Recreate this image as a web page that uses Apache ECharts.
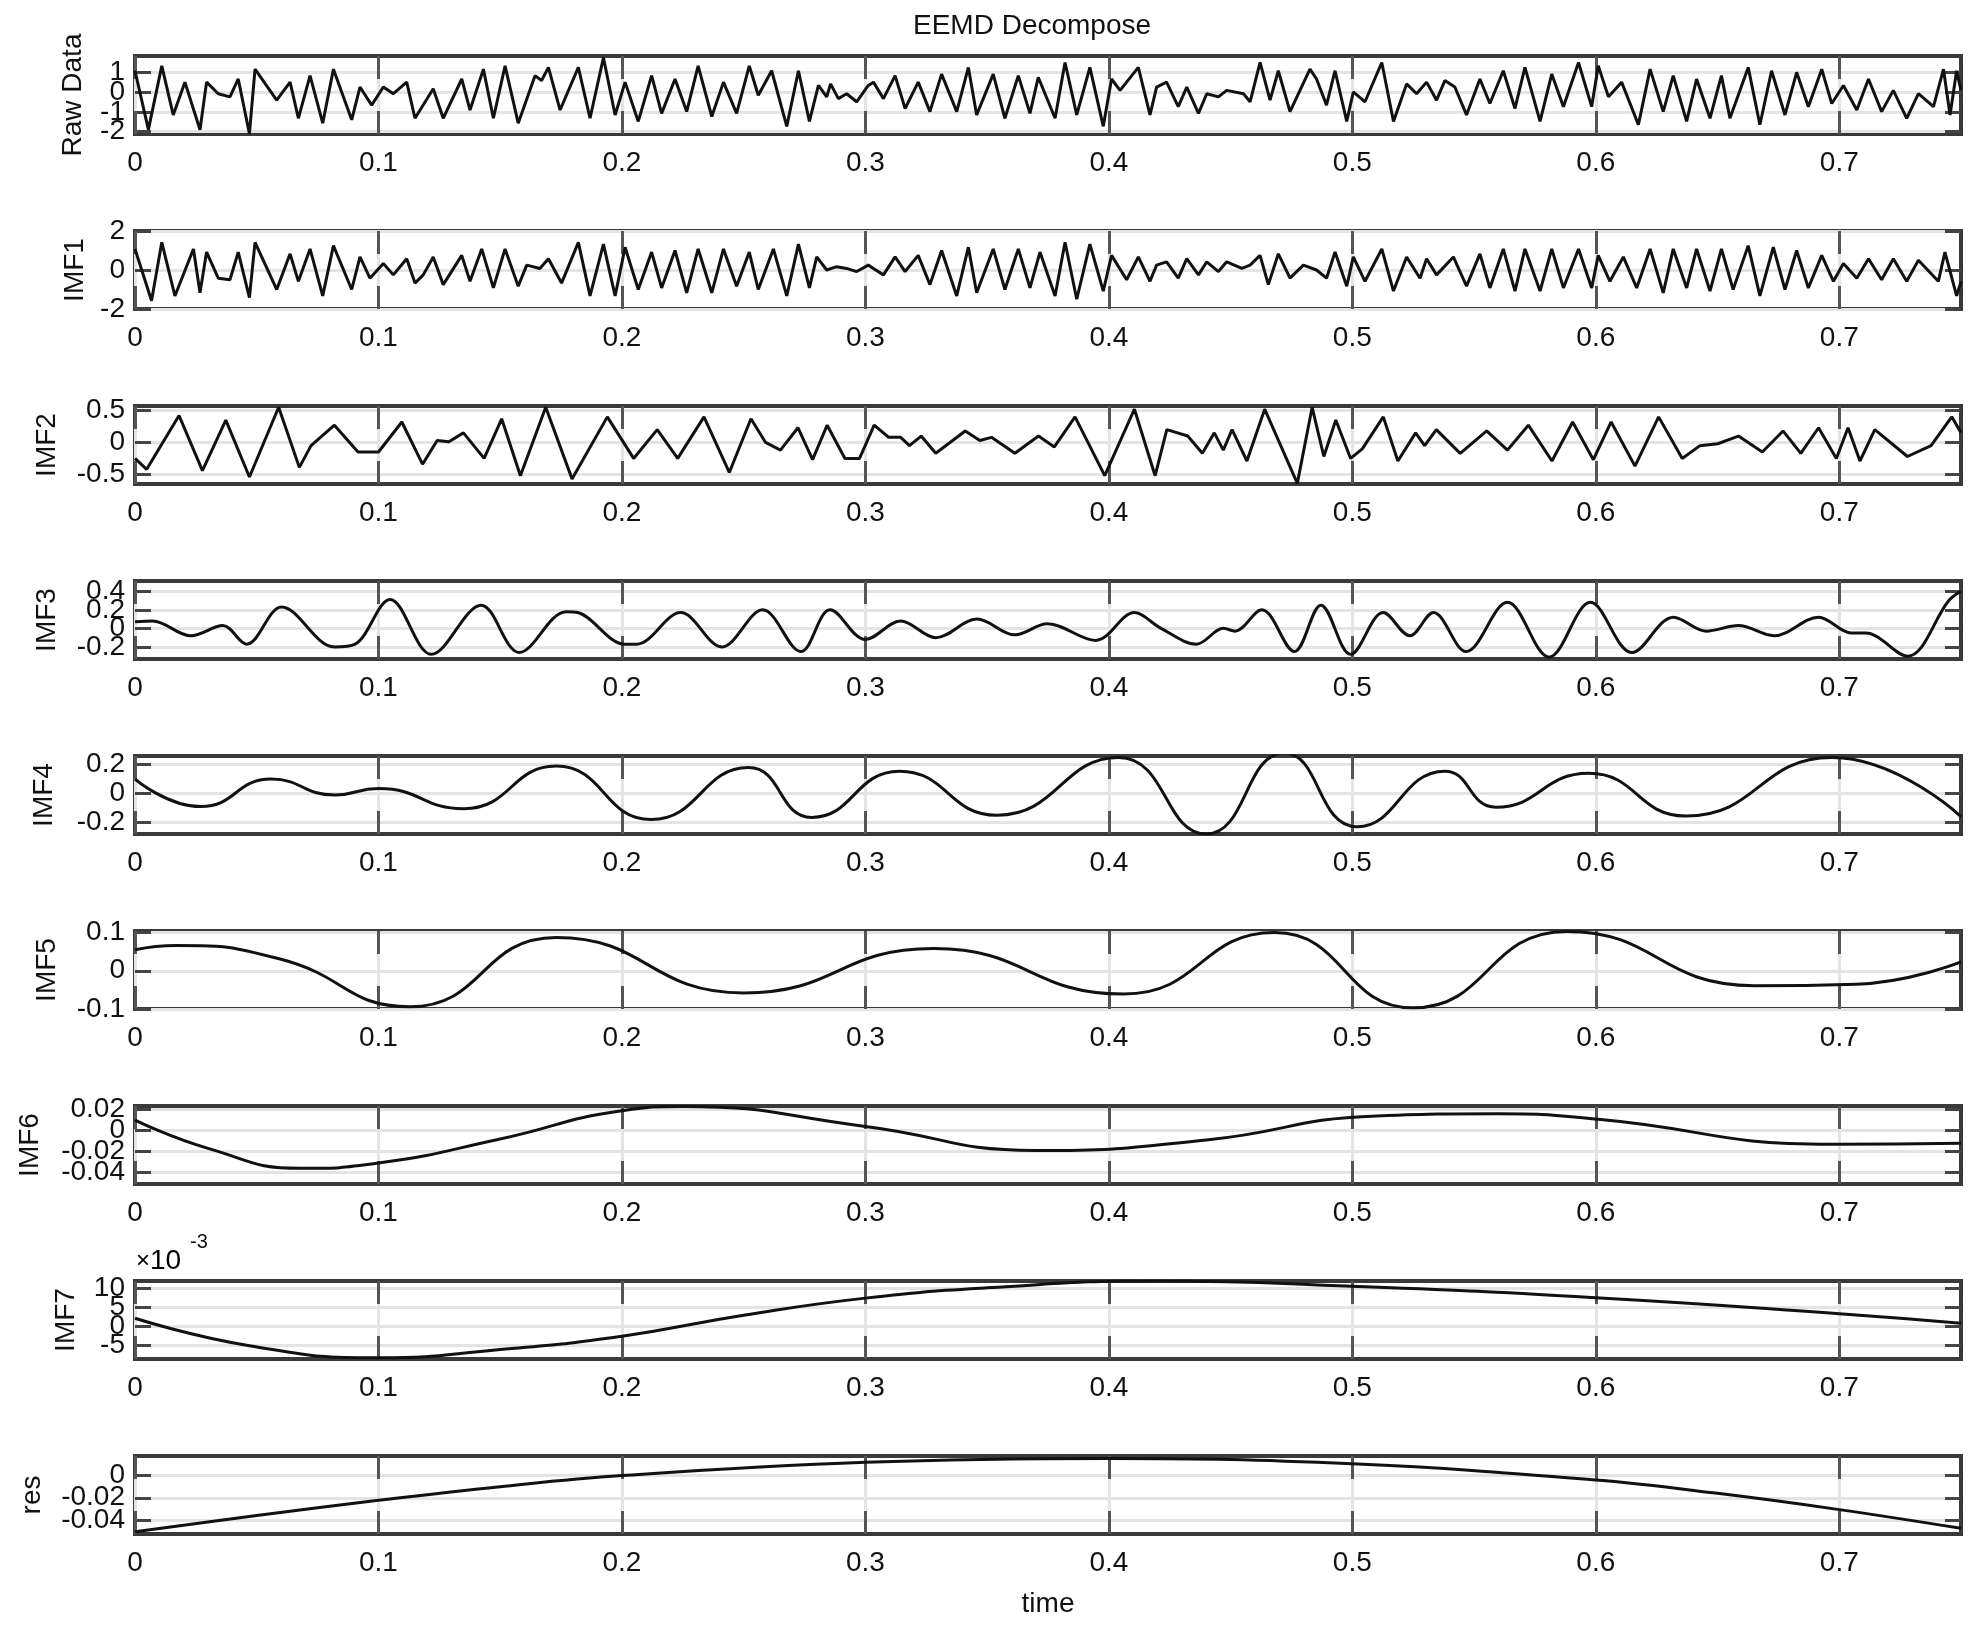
<!DOCTYPE html>
<html><head><meta charset="utf-8">
<script src="https://cdn.jsdelivr.net/npm/echarts@6/dist/echarts.min.js"></script>
<style>html,body{margin:0;padding:0;background:#fff}#c{width:1980px;height:1637px}</style>
</head><body><div id="c"></div>
<script>
// ---------------- data ----------------
const timeTicks = [0, 0.1, 0.2, 0.3, 0.4, 0.5, 0.6, 0.7];
const timeRange = [0, 0.75];

const rawData = [[0,1.1],[0.0055,-1.9],[0.011,1.35],[0.0157,-1.15],[0.0205,0.52],[0.0267,-1.9],[0.0294,0.52],[0.0342,-0.07],[0.039,-0.23],[0.0424,0.68],[0.047,-2.1],[0.0493,1.18],[0.0582,-0.4],[0.0637,0.52],[0.0671,-1.32],[0.0719,0.85],[0.0771,-1.57],[0.0815,1.18],[0.089,-1.4],[0.0924,0.27],[0.0972,-0.65],[0.102,0.27],[0.1061,-0.07],[0.1116,0.52],[0.115,-1.32],[0.1225,0.18],[0.1266,-1.32],[0.1342,0.68],[0.1376,-0.9],[0.1431,1.18],[0.1472,-1.32],[0.152,1.35],[0.1574,-1.57],[0.1643,0.85],[0.167,0.6],[0.1698,1.27],[0.1746,-0.9],[0.1821,1.27],[0.1869,-1.32],
[0.1924,1.77],[0.1972,-1.15],[0.2013,0.52],[0.2067,-1.48],[0.2122,0.85],[0.2163,-1.07],[0.2218,0.68],[0.2266,-0.98],[0.2313,1.35],[0.2369,-1.23],[0.2417,0.52],[0.2471,-1.07],[0.2523,1.35],[0.256,-0.15],[0.2615,1.1],[0.2677,-1.73],[0.2725,1.1],[0.277,-1.48],[0.2807,0.35],[0.2841,-0.23],[0.2857,0.43],[0.2889,-0.32],[0.2923,-0.07],[0.2964,-0.48],[0.3012,0.35],[0.3033,0.52],[0.3074,-0.32],[0.3122,0.85],[0.3163,-0.82],[0.3217,0.52],[0.3265,-0.98],[0.3313,0.93],[0.3375,-0.98],[0.3423,1.27],[0.3457,-1.15],[0.3525,0.93],[0.3573,-1.32],[0.3628,0.85],[0.3676,-1.07],[0.371,0.77],[0.3779,-1.32],
[0.382,1.52],[0.3868,-1.15],[0.3922,1.27],[0.3977,-1.73],[0.4011,0.68],[0.4046,0.1],[0.4121,1.27],[0.4169,-1.15],[0.4196,0.27],[0.4237,0.52],[0.4285,-0.73],[0.432,0.27],[0.4368,-1.07],[0.4402,-0.07],[0.445,-0.23],[0.4484,0.1],[0.4553,-0.07],[0.458,-0.48],[0.4621,1.52],[0.4662,-0.4],[0.4696,1.1],[0.4744,-0.98],[0.4826,1.18],[0.4853,0.68],[0.4894,-0.65],[0.4929,1.1],[0.4977,-1.48],[0.5004,0.02],[0.5052,-0.48],[0.5121,1.52],[0.5169,-1.48],[0.5223,0.43],[0.5264,-0.07],[0.5305,0.52],[0.5346,-0.4],[0.538,0.6],[0.5421,0.27],[0.5469,-1.15],[0.5524,0.68],[0.5565,-0.57],[0.562,1.1],[0.5668,-0.82],
[0.5709,1.27],[0.5771,-1.48],[0.5819,0.93],[0.5867,-0.73],[0.5929,1.52],[0.5983,-0.73],[0.601,1.35],[0.6052,-0.23],[0.6106,0.52],[0.6175,-1.65],[0.6223,1.18],[0.6277,-0.98],[0.6318,0.85],[0.6373,-1.48],[0.6414,0.68],[0.6469,-1.32],[0.6516,0.85],[0.6551,-1.32],[0.6626,1.27],[0.6674,-1.65],[0.6722,1.1],[0.6777,-1.15],[0.6825,1.02],[0.6873,-0.73],[0.6928,1.18],[0.6969,-0.57],[0.7017,0.35],[0.7072,-0.9],[0.712,0.68],[0.7174,-0.98],[0.7222,0.1],[0.7277,-1.32],[0.7325,-0.07],[0.7387,-0.73],[0.7428,1.18],[0.7455,-1.15],[0.7482,1.1],[0.75,0.1]];

const imf1Data = [[0,1.08],[0.0068,-1.58],[0.011,1.42],[0.0164,-1.33],[0.024,1.08],[0.0267,-1.17],[0.0294,0.92],[0.0342,-0.42],[0.039,-0.5],[0.0424,0.92],[0.047,-1.42],[0.0493,1.42],[0.0582,-1.0],[0.0637,0.83],[0.0671,-0.58],[0.0719,1.08],[0.0771,-1.33],[0.0815,1.25],[0.089,-1.0],[0.0924,0.67],[0.0965,-0.42],[0.102,0.33],[0.1061,-0.25],[0.1116,0.58],[0.115,-0.67],[0.1184,-0.25],[0.1225,0.67],[0.1266,-0.75],[0.1342,0.75],[0.1376,-0.58],[0.1424,1.08],[0.1472,-0.92],[0.152,1.08],[0.1574,-0.83],[0.1609,0.25],[0.1663,0.08],[0.1698,0.58],[0.1752,-0.67],[0.1821,1.42],[0.1869,-1.33],
[0.1924,1.33],[0.1972,-1.33],[0.2013,1.17],[0.2067,-1.0],[0.2122,0.92],[0.2163,-0.92],[0.2218,1.0],[0.2266,-1.17],[0.2313,1.08],[0.2369,-1.17],[0.2417,1.08],[0.2471,-0.83],[0.2523,0.92],[0.256,-1.0],[0.2622,1.08],[0.2677,-1.33],[0.2725,1.33],[0.277,-0.92],[0.28,0.67],[0.2841,0.0],[0.2882,0.17],[0.2923,0.08],[0.2964,-0.08],[0.3012,0.25],[0.3033,0.08],[0.3074,-0.25],[0.3122,0.67],[0.3163,-0.08],[0.3217,0.75],[0.3265,-0.75],[0.3313,1.0],[0.3375,-1.33],[0.3423,1.17],[0.3457,-1.17],[0.3525,1.08],[0.3573,-1.0],[0.3628,1.08],[0.3676,-0.92],[0.3717,0.92],[0.3779,-1.33],
[0.382,1.42],[0.3868,-1.5],[0.3922,1.33],[0.3977,-1.08],[0.4011,0.75],[0.4073,-0.5],[0.4121,0.67],[0.4169,-0.58],[0.4196,0.25],[0.4237,0.42],[0.4285,-0.42],[0.432,0.58],[0.4368,-0.25],[0.4402,0.42],[0.445,-0.08],[0.4484,0.42],[0.4546,0.08],[0.458,0.25],[0.4621,0.75],[0.4655,-0.75],[0.4696,0.83],[0.4744,-0.42],[0.4799,0.25],[0.4853,0.0],[0.4894,-0.42],[0.4929,0.92],[0.4977,-0.83],[0.5004,0.67],[0.5052,-0.58],[0.5121,1.08],[0.5169,-1.08],[0.5223,0.67],[0.5278,-0.42],[0.5305,0.58],[0.5346,-0.25],[0.5415,0.67],[0.5469,-0.83],[0.5524,0.83],[0.5565,-0.92],[0.562,1.08],[0.5668,-1.08],
[0.5709,1.08],[0.5771,-1.08],[0.5819,1.08],[0.5867,-0.92],[0.5929,1.08],[0.5983,-0.92],[0.601,0.75],[0.6058,-0.58],[0.6113,0.67],[0.6168,-0.92],[0.6223,1.08],[0.6277,-1.17],[0.6318,1.08],[0.6373,-0.92],[0.6414,1.08],[0.6469,-1.08],[0.6516,1.08],[0.6564,-1.0],[0.6626,1.25],[0.6674,-1.33],[0.6729,1.17],[0.6777,-1.0],[0.6825,1.0],[0.6873,-0.92],[0.6928,0.75],[0.6976,-0.58],[0.7017,0.33],[0.7072,-0.42],[0.712,0.58],[0.7174,-0.5],[0.7222,0.58],[0.7277,-0.58],[0.7325,0.5],[0.7407,-0.58],[0.7434,0.92],[0.7482,-1.33],[0.75,-0.58]];

const imf2Data = [[0,-0.25],[0.0048,-0.42],[0.0181,0.42],[0.0277,-0.44],[0.0373,0.35],[0.047,-0.54],[0.059,0.55],[0.0675,-0.39],[0.0723,-0.05],[0.0819,0.27],[0.0916,-0.15],[0.1,-0.15],[0.1096,0.32],[0.1181,-0.34],[0.1241,0.03],[0.1289,0.01],[0.1349,0.15],[0.1434,-0.25],[0.1506,0.37],[0.1583,-0.52],[0.1687,0.55],[0.1795,-0.57],[0.194,0.4],[0.2048,-0.25],[0.2145,0.2],[0.2229,-0.25],[0.2337,0.4],[0.2441,-0.47],[0.253,0.37],[0.259,0.0],[0.2651,-0.12],[0.2723,0.23],[0.2783,-0.27],[0.2843,0.27],[0.2916,-0.25],[0.2976,-0.25],[0.3036,0.27],[0.3096,0.08],[0.3145,0.08],[0.3181,-0.05],[0.3229,0.1],[0.3289,-0.17],[0.341,0.18],[0.347,0.03],[0.3518,0.08],[0.3614,-0.17],[0.3711,0.1],
[0.3776,-0.07],[0.3861,0.4],[0.3983,-0.52],[0.4105,0.52],[0.419,-0.52],[0.4238,0.2],[0.4324,0.1],[0.4384,-0.17],[0.4433,0.15],[0.447,-0.12],[0.4506,0.2],[0.4567,-0.29],[0.464,0.52],[0.4774,-0.64],[0.4835,0.55],[0.4883,-0.22],[0.4932,0.35],[0.4993,-0.25],[0.5041,-0.1],[0.5127,0.4],[0.5187,-0.29],[0.526,0.15],[0.5297,-0.05],[0.5345,0.2],[0.5443,-0.17],[0.5552,0.18],[0.5637,-0.12],[0.5723,0.27],[0.582,-0.29],[0.5905,0.32],[0.599,-0.27],[0.6063,0.32],[0.6161,-0.37],[0.6258,0.4],[0.6355,-0.25],[0.6428,-0.05],[0.6501,-0.02],[0.6586,0.1],[0.6684,-0.15],[0.6769,0.18],[0.6842,-0.17],[0.6915,0.23],[0.6988,-0.25],[0.7036,0.23],[0.7085,-0.29],[0.7146,0.2],[0.728,-0.22],[0.7377,-0.05],[0.7462,0.4],[0.75,0.15]];

const imf3Data = [[0,0.07],[0.0072,0.08],[0.0229,-0.08],[0.0361,0.03],[0.0458,-0.17],[0.0602,0.23],[0.0819,-0.2],[0.0904,-0.17],[0.1048,0.31],[0.1217,-0.28],[0.1422,0.25],[0.1578,-0.26],[0.1771,0.18],[0.1819,0.17],[0.2012,-0.17],[0.206,-0.17],[0.2241,0.17],[0.241,-0.2],[0.2578,0.2],[0.2735,-0.25],[0.2855,0.2],[0.3,-0.12],[0.3145,0.08],[0.3289,-0.1],[0.3458,0.1],[0.3614,-0.07],[0.3747,0.05],[0.3946,-0.13],[0.4105,0.17],[0.4214,0.0],[0.436,-0.17],[0.447,0.0],[0.4518,-0.03],[0.4628,0.2],[0.4762,-0.25],[0.4871,0.25],[0.4993,-0.28],[0.5127,0.17],[0.5236,-0.08],[0.5333,0.17],[0.5467,-0.25],[0.5637,0.28],[0.5808,-0.31],[0.5978,0.28],[0.6148,-0.26],[0.6319,0.12],[0.6453,-0.03],[0.6586,0.03],[0.6732,-0.08],[0.6915,0.12],[0.7049,-0.05],[0.7109,-0.05],[0.728,-0.3],[0.745,0.3],[0.75,0.4]];

const imf4Data = [[0,0.1],[0.027,-0.09],[0.056,0.1],[0.082,-0.01],[0.1,0.035],[0.135,-0.105],[0.173,0.19],[0.212,-0.18],[0.252,0.18],[0.278,-0.165],[0.314,0.155],[0.354,-0.15],[0.404,0.25],[0.44,-0.28],[0.472,0.28],[0.502,-0.23],[0.538,0.155],[0.559,-0.095],[0.597,0.14],[0.637,-0.155],[0.697,0.25],[0.75,-0.16]];

const imf5Data = [[0,0.055],[0.017,0.066],[0.06,0.03],[0.113,-0.094],[0.173,0.087],[0.25,-0.058],[0.328,0.058],[0.406,-0.061],[0.468,0.1],[0.525,-0.097],[0.588,0.103],[0.665,-0.039],[0.707,-0.035],[0.75,0.023]];

const imf6Data = [[0,0.01],[0.03,-0.017],[0.068,-0.036],[0.1,-0.031],[0.15,-0.008],[0.2,0.019],[0.225,0.023],[0.3,0.004],[0.37,-0.019],[0.44,-0.009],[0.51,0.014],[0.56,0.016],[0.6,0.011],[0.697,-0.013],[0.75,-0.012]];

const imf7Data = [[0,0.0022],[0.047,-0.005],[0.1,-0.0082],[0.15,-0.006],[0.2,-0.0025],[0.25,0.003],[0.3,0.0075],[0.35,0.0102],[0.42,0.012],[0.5,0.0106],[0.6,0.0076],[0.7,0.0034],[0.75,0.0009]];

const resData = [[0,-0.0506],[0.05,-0.036],[0.1,-0.0223],[0.15,-0.01],[0.2,0.0],[0.3,0.012],[0.4,0.0155],[0.5,0.0106],[0.6,-0.004],[0.65,-0.016],[0.7,-0.0307],[0.75,-0.0476]];

const panelNames = ['Raw Data','IMF1','IMF2','IMF3','IMF4','IMF5','IMF6','IMF7','res'];
const panelSeries = [rawData, imf1Data, imf2Data, imf3Data, imf4Data, imf5Data, imf6Data, imf7Data, resData];
const yRanges = [[-2.12,1.85],[-2,2],[-0.65,0.57],[-0.33,0.51],[-0.28,0.26],[-0.1,0.104],[-0.051,0.0235],[-0.0085,0.012],[-0.0527,0.0177]];
const yTicks = [[-2,-1,0,1],[-2,0,2],[-0.5,0,0.5],[-0.2,0,0.2,0.4],[-0.2,0,0.2],[-0.1,0,0.1],[-0.04,-0.02,0,0.02],[-0.005,0,0.005,0.01],[-0.04,-0.02,0]];
const yLabelScale = [1,1,1,1,1,1,1,1000,1];
const chartTitle = 'EEMD Decompose';
const xName = 'time';
const imf7Exponent = '-3';

// ---------------- layout / style ----------------
const FONT = '"Liberation Sans", Arial, sans-serif';
const FS = 28;
const LEFT = 135, RIGHT = 19, TOP0 = 56, STEP = 175, H = 78;
const nameGaps = [48, 46, 74, 74, 77, 74, 91, 55, 89];
const smoothness = [false, false, false, 0.35, 0.5, 0.5, 0.5, 0.5, 0.4];

const chart = echarts.init(document.getElementById('c'), null, {renderer: 'canvas'});
const grid = [], xAxis = [], yAxis = [], series = [];
const fmtNum = v => String(+(+v).toFixed(4));
const tickStyle = {color: '#444', width: 3};
const hidden = {show: false};

panelSeries.forEach((data, i) => {
  grid.push({left: LEFT, right: RIGHT, top: TOP0 + i * STEP, height: H, show: true,
    borderColor: '#3a3a3a', borderWidth: 4, backgroundColor: 'rgba(0,0,0,0)'});
  const scale = yLabelScale[i];
  const [ymin, ymax] = yRanges[i];
  const xIdx = xAxis.length;
  xAxis.push({type: 'value', gridIndex: i, min: timeRange[0], max: timeRange[1], position: 'bottom',
    name: i === panelSeries.length - 1 ? xName : '', nameLocation: 'middle', nameGap: 56,
    nameTextStyle: {fontSize: FS, fontFamily: FONT, color: '#111'},
    axisLine: {show: false, onZero: false},
    axisTick: {show: true, inside: true, length: 23, customValues: timeTicks, lineStyle: {color: '#555', width: 3}},
    axisLabel: {show: true, customValues: timeTicks, margin: 15, fontSize: FS, fontFamily: FONT, color: '#111',
      showMinLabel: true, showMaxLabel: true, formatter: v => fmtNum(v)},
    splitLine: {show: true, lineStyle: {color: '#e4e4e4', width: 3}}
  });
  xAxis.push({type: 'value', gridIndex: i, min: timeRange[0], max: timeRange[1], position: 'top',
    axisLine: {show: false, onZero: false},
    axisTick: {show: true, inside: true, length: 23, customValues: timeTicks, lineStyle: {color: '#555', width: 3}},
    axisLabel: hidden, splitLine: hidden
  });
  const yIdx = yAxis.length;
  yAxis.push({type: 'value', gridIndex: i, min: ymin, max: ymax, position: 'left',
    name: panelNames[i], nameLocation: 'middle', nameGap: nameGaps[i], nameRotate: 90,
    nameTextStyle: {fontSize: FS, fontFamily: FONT, color: '#111'},
    axisLine: {show: false, onZero: false},
    axisTick: {show: true, inside: true, length: 16, customValues: yTicks[i], lineStyle: tickStyle},
    axisLabel: hidden,
    splitLine: {show: true, lineStyle: {color: '#e4e4e4', width: 3}}
  });
  yAxis.push({type: 'value', gridIndex: i, min: ymin, max: ymax, position: 'right',
    axisLine: {show: false, onZero: false},
    axisTick: {show: true, inside: true, length: 16, customValues: yTicks[i], lineStyle: tickStyle},
    axisLabel: hidden, splitLine: hidden
  });
  // one label axis per tick value, so the crowded labels overlap like the original
  yTicks[i].forEach(tv => {
    yAxis.push({type: 'value', gridIndex: i, min: ymin, max: ymax, position: 'left',
      axisLine: {show: false, onZero: false}, axisTick: hidden, splitLine: hidden,
      axisLabel: {show: true, customValues: [tv], margin: 10, fontSize: FS, fontFamily: FONT, color: '#111',
        showMinLabel: true, showMaxLabel: true, formatter: v => fmtNum(v * scale)}
    });
  });
  series.push({type: 'line', xAxisIndex: xIdx, yAxisIndex: yIdx, data: data,
    showSymbol: false, symbol: 'none', smooth: smoothness[i], clip: true,
    lineStyle: {color: '#111', width: 3}, z: 3});
});

chart.setOption({
  animation: false,
  backgroundColor: '#ffffff',
  grid, xAxis, yAxis, series,
  graphic: [
    {type: 'text', left: 1043 - 130, top: 12, style: {text: chartTitle, font: FS + 'px ' + FONT, fill: '#111', width: 260, align: 'center'}},
    {type: 'text', left: 136, top: 1247, style: {text: '{x|×}{n|10}', rich: {x: {fontSize: 24, fontFamily: FONT, color: '#aaa'}, n: {fontSize: FS, fontFamily: FONT, color: '#111'}}}},
    {type: 'text', left: 190, top: 1232, style: {text: imf7Exponent, font: '20px ' + FONT, fill: '#111'}}
  ]
});
</script>
</body></html>
